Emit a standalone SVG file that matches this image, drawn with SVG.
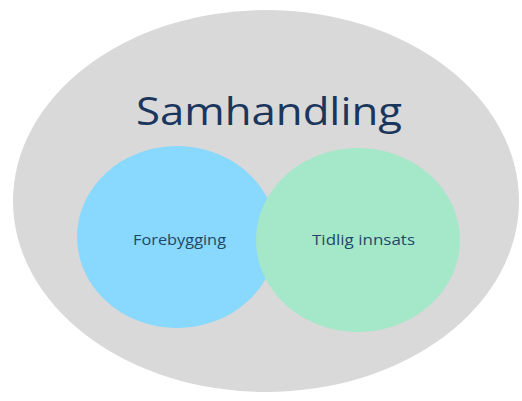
<svg xmlns="http://www.w3.org/2000/svg" width="522" height="401" viewBox="0 0 522 401">
<style>
.t{font-family:"Open Sans","Noto Sans","Liberation Sans",sans-serif;text-anchor:middle}
.title{font-size:39px;fill:#1b365d}
.lbl{font-size:14px;fill:#1f4868}
</style>
<rect width="522" height="401" fill="#ffffff"/>
<g id="samhandling">
<ellipse cx="266" cy="201" rx="253" ry="191" fill="#d9d9d9"/>
<text class="t title" x="269" y="125" textLength="266" lengthAdjust="spacingAndGlyphs">Samhandling</text>
</g>
<g id="forebygging">
<ellipse cx="177" cy="237" rx="100" ry="91" fill="#89d8fd"/>
<text class="t lbl" x="179.5" y="245" textLength="93" lengthAdjust="spacingAndGlyphs">Forebygging</text>
</g>
<g id="tidlig-innsats">
<ellipse cx="358" cy="240" rx="102" ry="92" fill="#a5e8c9"/>
<text class="t lbl" x="363.5" y="245" textLength="103" lengthAdjust="spacingAndGlyphs">Tidlig innsats</text>
</g>
<g id="connectors"></g>
</svg>
